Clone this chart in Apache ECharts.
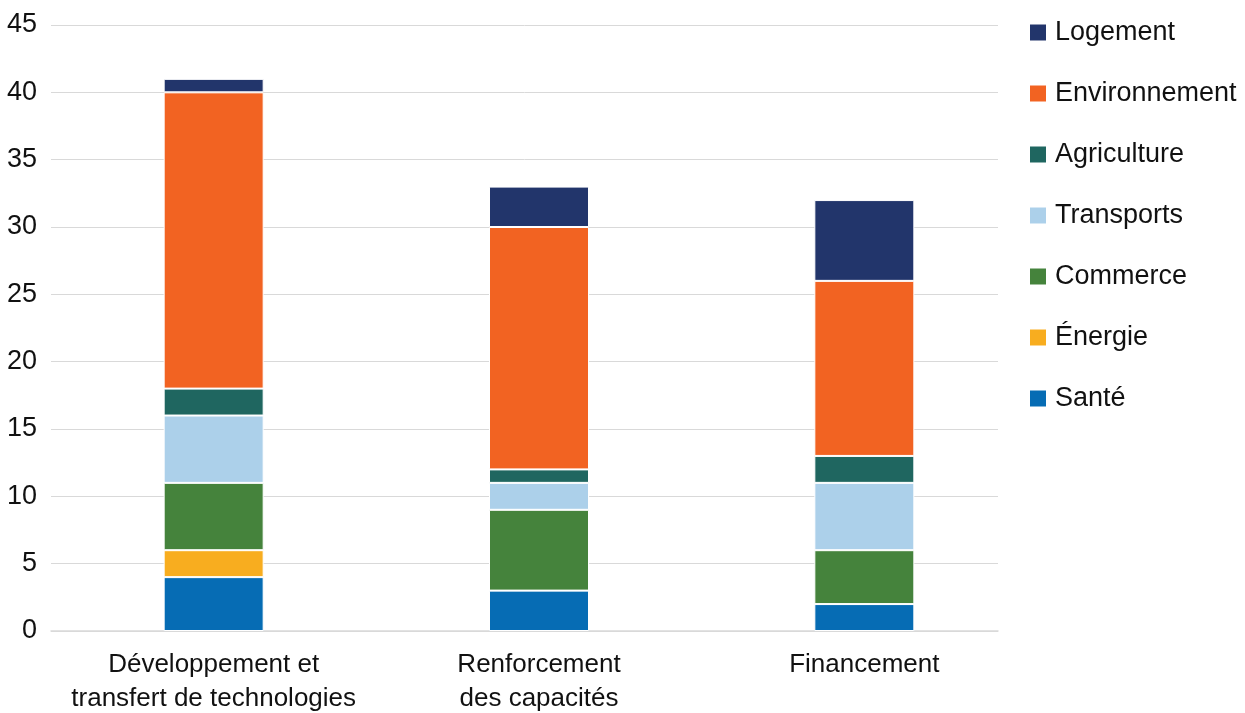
<!DOCTYPE html>
<html><head><meta charset="utf-8">
<script src="https://cdn.jsdelivr.net/npm/echarts@6/dist/echarts.min.js"></script>
<style>html,body{margin:0;padding:0;background:#fff}#c{width:1245px;height:713px}</style>
</head><body><div id="c"></div>
<script>
const categories = ['Développement et\ntransfert de technologies', 'Renforcement\ndes capacités', 'Financement'];
const seriesNames = ['Santé', 'Énergie', 'Commerce', 'Transports', 'Agriculture', 'Environnement', 'Logement'];
const santeVals = [4, 3, 2];
const energieVals = [2, 0, 0];
const commerceVals = [5, 6, 4];
const transportsVals = [5, 2, 5];
const agricultureVals = [2, 1, 2];
const environnementVals = [22, 18, 13];
const logementVals = [1, 3, 6];
const colors = ['#066cb4', '#f8ad1f', '#45833c', '#acd0ea', '#1f6660', '#f26322', '#22356b'];
const yTicks = [0, 5, 10, 15, 20, 25, 30, 35, 40, 45];

const values = [santeVals, energieVals, commerceVals, transportsVals, agricultureVals, environnementVals, logementVals];
const font = 'Liberation Sans, Arial, sans-serif';
const chart = echarts.init(document.getElementById('c'), null, {renderer: 'canvas'});
chart.setOption({
  animation: false,
  color: colors,
  textStyle: {fontFamily: font},
  grid: [
    {left: 51, right: 218, top: 25, bottom: 82, outerBoundsMode: 'none', containLabel: false},
    {left: 51, right: 247, top: 25, bottom: 82, outerBoundsMode: 'none', containLabel: false}
  ],
  legend: {
    orient: 'vertical', left: 1028, top: 19, padding: 0,
    itemWidth: 18, itemHeight: 18, itemGap: 34,
    icon: 'rect',
    data: seriesNames.slice().reverse(),
    textStyle: {fontSize: 27, color: '#111', fontFamily: font, padding: [0,0,0,3]}
  },
  xAxis: [
    {type: 'category', gridIndex: 0, data: categories,
     axisLine: {show: false}, axisTick: {show: false},
     axisLabel: {fontSize: 26, color: '#111', lineHeight: 34, margin: 17, interval: 0, fontFamily: font}},
    {type: 'value', gridIndex: 1, show: true, min: 0, max: 1,
     axisLabel: {show: false}, axisTick: {show: false}, splitLine: {show: false},
     axisLine: {show: true, lineStyle: {color: '#d9d9d9', width: 1.5}}}
  ],
  yAxis: [
    {type: 'value', gridIndex: 0, min: 0, max: 45, interval: 5, show: false, splitLine: {show: false}},
    {type: 'value', gridIndex: 1, min: yTicks[0], max: yTicks[yTicks.length-1], interval: 5,
     axisLine: {show: false}, axisTick: {show: false},
     axisLabel: {fontSize: 27, color: '#111', margin: 14, fontFamily: font},
     splitLine: {show: true, lineStyle: {color: '#d9d9d9', width: 1}}}
  ],
  series: seriesNames.map((name, i) => ({
    name, type: 'bar', stack: 'total', xAxisIndex: 0, yAxisIndex: 0,
    barWidth: 100,
    data: values[i],
    itemStyle: {color: colors[i], borderColor: '#fff', borderWidth: 1}
  }))
});
</script></body></html>
